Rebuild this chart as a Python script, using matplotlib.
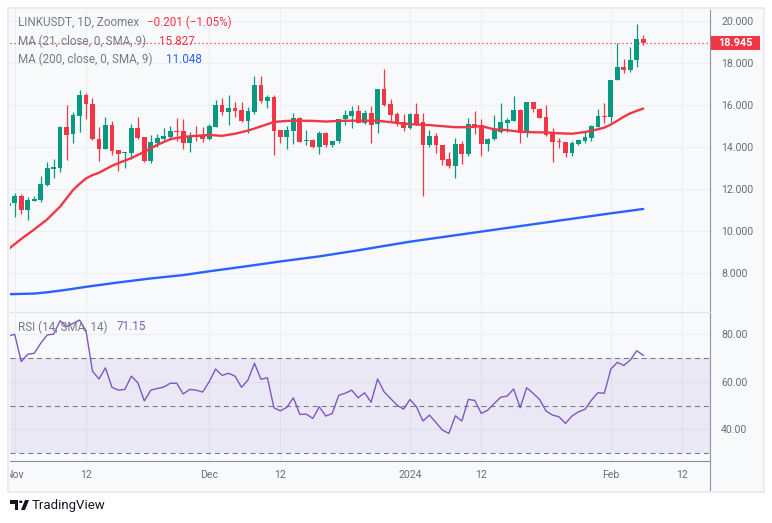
import numpy as np
import pandas as pd
import matplotlib
matplotlib.use('Agg')
import matplotlib.pyplot as plt
import matplotlib.dates as mdates
from matplotlib.patches import Rectangle, Polygon, Circle

# LINKUSDT daily candles (Zoomex), first candle 2023-10-31
start = '2023-10-31'
opens = [11.20,
         11.35, 11.67, 11.02, 11.45, 11.49, 12.19, 12.97, 13.02, 14.97, 14.60,
         15.49, 16.48, 16.05, 14.37, 13.92, 15.05, 13.86, 13.70, 13.73, 14.89,
         14.46, 13.35, 14.21, 14.40, 14.49, 14.76, 14.76, 14.17, 14.55, 14.52,
         14.38, 14.97, 16.00, 15.68, 15.84, 15.76, 15.24, 15.65, 16.95, 16.21,
         16.38, 14.81, 14.49, 14.78, 15.37, 14.27, 14.33, 14.02, 14.65, 14.10,
         14.27, 15.32, 15.49, 15.71, 15.16, 15.63, 15.10, 16.76, 16.05, 15.57,
         15.21, 14.92, 15.57, 15.21, 14.10, 14.52, 14.10, 13.43, 13.10, 14.14,
         13.67, 15.10, 15.05, 14.14, 14.38, 14.73, 15.16, 15.24, 15.76, 14.65,
         16.14, 15.79, 15.43, 14.65, 14.29, 14.25, 13.73, 14.14, 14.29, 14.44,
         14.97, 15.49, 15.41, 17.17, 17.81, 17.65, 18.13, 19.146]
highs = [11.45,
         11.79, 11.76, 11.63, 11.67, 12.62, 13.30, 13.41, 15.02, 16.02, 15.68,
         16.71, 16.59, 16.32, 14.97, 15.44, 15.24, 13.86, 13.78, 15.08, 15.41,
         14.46, 14.57, 14.62, 14.89, 15.02, 15.37, 15.32, 14.73, 15.00, 14.97,
         15.08, 16.24, 16.32, 16.48, 16.16, 16.16, 15.92, 17.38, 17.38, 16.48,
         16.48, 14.81, 15.00, 15.63, 15.41, 14.81, 14.37, 14.76, 14.73, 14.29,
         15.32, 15.76, 15.95, 16.00, 15.76, 15.95, 16.76, 17.71, 16.29, 15.68,
         15.57, 15.63, 16.11, 15.63, 14.81, 14.65, 14.10, 13.78, 14.41, 14.30,
         15.37, 15.71, 15.33, 14.44, 15.52, 16.11, 15.40, 16.43, 15.79, 16.14,
         16.14, 15.87, 16.00, 14.92, 14.44, 14.25, 14.29, 14.38, 14.70, 15.05,
         15.83, 16.10, 17.21, 18.95, 18.19, 18.76, 19.83, 19.35]
lows = [10.95,
        10.68, 10.81, 10.52, 11.44, 11.40, 12.14, 12.51, 12.83, 13.38, 14.17,
        14.73, 15.33, 14.33, 13.35, 13.92, 13.62, 12.87, 12.98, 13.41, 14.37,
        13.30, 13.25, 13.98, 14.33, 14.33, 14.30, 13.90, 13.78, 14.30, 14.25,
        14.33, 14.94, 15.52, 15.05, 15.44, 15.21, 14.68, 15.57, 16.08, 15.84,
        13.62, 14.17, 13.89, 14.14, 14.25, 14.10, 13.94, 13.67, 13.98, 14.02,
        14.21, 15.05, 14.92, 15.13, 15.08, 14.21, 14.68, 15.95, 15.25, 15.00,
        14.78, 14.84, 15.05, 11.68, 14.02, 13.73, 13.14, 12.98, 12.54, 13.19,
        13.57, 14.62, 13.57, 13.83, 14.33, 14.68, 14.73, 15.24, 14.21, 14.49,
        15.68, 15.40, 14.52, 13.27, 13.94, 13.54, 13.59, 14.10, 14.19, 14.30,
        14.94, 15.14, 15.17, 17.17, 17.52, 17.56, 17.81, 18.87]
closes = [11.35,
          11.67, 11.02, 11.48, 11.51, 12.24, 13.00, 13.06, 14.97, 14.59, 15.52,
          16.48, 16.03, 14.37, 13.92, 15.05, 13.83, 13.67, 13.78, 14.89, 14.41,
          13.35, 14.22, 14.43, 14.52, 14.76, 14.71, 14.17, 14.51, 14.48, 14.38,
          15.00, 16.00, 15.68, 15.84, 15.73, 15.24, 15.71, 16.95, 16.19, 16.37,
          14.78, 14.49, 14.81, 15.37, 14.25, 14.33, 14.02, 14.65, 14.10, 14.29,
          15.32, 15.52, 15.71, 15.16, 15.63, 15.05, 16.76, 16.00, 15.52, 15.10,
          14.92, 15.57, 15.10, 14.10, 14.52, 14.10, 13.38, 13.10, 14.14, 13.67,
          15.10, 15.00, 14.14, 14.38, 14.81, 15.21, 15.29, 15.76, 14.65, 16.14,
          15.79, 15.40, 14.57, 14.25, 14.22, 13.73, 14.17, 14.33, 14.49, 15.00,
          15.49, 15.41, 17.21, 17.81, 17.65, 18.16, 19.146, 18.945]
rsi = [79.3,
       80.0, 68.5, 71.6, 72.0, 76.2, 79.7, 80.1, 85.7, 83.3, 84.6,
       86.0, 81.5, 64.5, 61.2, 65.9, 57.7, 56.5, 56.8, 62.4, 59.6,
       52.0, 56.5, 57.2, 57.8, 59.4, 59.4, 54.9, 56.8, 56.5, 55.7,
       60.0, 65.4, 62.7, 63.6, 62.4, 57.7, 60.8, 67.8, 61.1, 61.7,
       49.1, 47.8, 49.3, 53.3, 46.3, 46.4, 44.6, 49.5, 45.6, 46.7,
       54.3, 55.2, 56.5, 53.3, 55.4, 51.4, 61.2, 55.8, 53.0, 50.2,
       48.5, 52.6, 49.5, 43.5, 46.0, 42.9, 39.7, 38.3, 45.7, 43.5,
       52.6, 52.2, 46.7, 48.1, 50.9, 53.5, 54.0, 57.0, 49.1, 57.5,
       55.2, 52.6, 47.7, 46.0, 45.3, 42.5, 45.6, 47.4, 48.4, 52.3,
       55.4, 55.2, 65.4, 68.2, 66.9, 69.2, 73.1, 71.15]

# moving averages (day = days after 2023-11-01)
ma21_day = [-1, 1, 3, 5, 7, 9, 10, 11, 12, 13, 15, 16, 18, 20, 22, 24, 26, 28, 30,
            32, 34, 36, 38, 40, 42, 44, 46, 48, 50, 52, 54, 56, 58, 60, 62, 64, 66,
            68, 70, 72, 74, 76, 78, 80, 82, 84, 86, 88, 90, 91, 92, 93, 94, 95, 96, 97]
ma21_val = [9.13, 9.62, 10.07, 10.55, 11.16, 11.95, 12.24, 12.50, 12.66, 12.77, 13.10,
            13.23, 13.47, 13.77, 14.10, 14.37, 14.48, 14.53, 14.57, 14.53, 14.63, 14.78,
            14.98, 15.19, 15.24, 15.25, 15.24, 15.21, 15.24, 15.25, 15.25, 15.25, 15.18,
            15.11, 15.07, 15.04, 14.99, 14.94, 14.94, 14.99, 14.84, 14.80, 14.72, 14.70,
            14.69, 14.65, 14.63, 14.71, 14.84, 14.92, 15.07, 15.25, 15.44, 15.60, 15.72,
            15.827]
ma200_day = [-1, 3, 5, 8, 11, 16, 21, 26, 30, 36, 41, 47, 53, 61, 72, 83, 92, 97]
ma200_val = [6.99, 7.02, 7.08, 7.20, 7.34, 7.55, 7.74, 7.90, 8.08, 8.33, 8.55, 8.79,
             9.08, 9.49, 9.97, 10.45, 10.84, 11.048]

tick_dates = ['2023-11-01', '2023-11-12', '2023-12-01', '2023-12-12',
              '2024-01-01', '2024-01-12', '2024-02-01', '2024-02-12']
tick_labels = ['Nov', '12', 'Dec', '12', '2024', '12', 'Feb', '12']
price_ticks = [8, 10, 12, 14, 16, 18, 20]
rsi_ticks = [40, 60, 80]

W, H = 772, 523
UP, DOWN = '#089981', '#F23645'
BG = '#F8F9FB'
GRID = '#ECEEF2'
TXT = '#787B86'
AXC = '#6A6D78'
FONT = 'Roboto'


def box(x0, y0, x1, y1):
    # pixel box (top-left origin) -> figure rect
    return [x0 / W, 1 - y1 / H, (x1 - x0) / W, (y1 - y0) / H]


fig = plt.figure(figsize=(W / 100, H / 100), dpi=100, facecolor='white')
plt.rcParams['font.family'] = [FONT, 'DejaVu Sans']

frame = Rectangle((8 / W, 1 - 492 / H), 756 / W, 484 / H, transform=fig.transFigure,
                  facecolor=BG, edgecolor='#E6E9EE', lw=1.2, zorder=-5)
fig.add_artist(frame)

ax = fig.add_axes(box(10, 10, 710, 311))
ax_rsi = fig.add_axes(box(10, 312, 710, 460))
ax_t = fig.add_axes(box(10, 461, 710, 490))

dates = pd.date_range(start, periods=len(opens))
x = mdates.date2num(dates)
nov1 = mdates.date2num(pd.Timestamp('2023-11-01'))
xl = (nov1 - 0.73, nov1 + 107.3)
tx = mdates.date2num(pd.to_datetime(tick_dates))

o, h, l, c = map(np.array, (opens, highs, lows, closes))
cols = np.where(c >= o, UP, DOWN)

for a in (ax, ax_rsi, ax_t):
    a.set_facecolor(BG)
    a.set_xlim(*xl)
    for s in a.spines.values():
        s.set_visible(False)
    a.tick_params(length=0)
    a.set_xticks([])

# main pane
ax.set_ylim(6.19, 20.52)
for t in tx:
    ax.axvline(t, color=GRID, lw=0.8, zorder=0)
for p in price_ticks:
    ax.axhline(p, color=GRID, lw=0.8, zorder=0)

ax.vlines(x, l, h, colors=cols, lw=0.9, zorder=2)
body = np.maximum(np.abs(c - o), 0.03)
ax.bar(x, body, bottom=np.minimum(o, c), width=0.74, color=cols, lw=0, zorder=3)

ax.plot(nov1 + np.array(ma21_day), ma21_val, color='#F23645', lw=1.7, zorder=4,
        solid_capstyle='round')
ax.plot(nov1 + np.array(ma200_day), ma200_val, color='#2962FF', lw=1.7, zorder=4,
        solid_capstyle='round')

last = closes[-1]
ax.axhline(last, color=DOWN, lw=0.9, ls=(0, (1, 2.2)), zorder=1)

ax.yaxis.tick_right()
ax.set_yticks(price_ticks)
ax.set_yticklabels([f'{p:.3f}' for p in price_ticks])
ax.tick_params(axis='y', pad=8, labelsize=7.6, labelcolor=AXC)
ax.spines['right'].set_visible(True)
ax.spines['right'].set_color('#8E919A')
ax.spines['right'].set_linewidth(0.8)

# rsi pane
ax_rsi.set_ylim(27.1, 89.4)
for t in tx:
    ax_rsi.axvline(t, color=GRID, lw=0.8, zorder=0)
for p in rsi_ticks:
    ax_rsi.axhline(p, color=GRID, lw=0.8, zorder=0)
ax_rsi.axhspan(30, 70, color='#7E57C2', alpha=0.1, lw=0, zorder=1)
for lvl in (70, 50, 30):
    ax_rsi.axhline(lvl, color='#787B86', lw=0.8, ls=(0, (4.5, 3.5)), zorder=2)
ax_rsi.plot(x, rsi, color='#7E57C2', lw=1.0, zorder=3)
ax_rsi.yaxis.tick_right()
ax_rsi.set_yticks(rsi_ticks)
ax_rsi.set_yticklabels([f'{p:.2f}' for p in rsi_ticks])
ax_rsi.tick_params(axis='y', pad=8, labelsize=7.6, labelcolor=AXC)
ax_rsi.spines['right'].set_visible(True)
ax_rsi.spines['right'].set_color('#8E919A')
ax_rsi.spines['right'].set_linewidth(0.8)
ax_rsi.spines['top'].set_visible(True)
ax_rsi.spines['top'].set_color('#E0E3EB')
ax_rsi.spines['top'].set_linewidth(0.8)

# time axis
ax_t.set_ylim(0, 1)
ax_t.set_yticks([])
ax_t.spines['top'].set_visible(True)
ax_t.spines['top'].set_color('#8E919A')
ax_t.spines['top'].set_linewidth(0.8)
ax_t.spines['right'].set_visible(True)
ax_t.spines['right'].set_color('#8E919A')
ax_t.spines['right'].set_linewidth(0.8)
for t, lab in zip(tx, tick_labels):
    ax_t.text(t, 0.52, lab, ha='center', va='center', fontsize=7.6, color=AXC,
              clip_on=True)

# price label on the right scale
fig.add_artist(Rectangle((711 / W, 1 - 50 / H), 49 / W, 14 / H, transform=fig.transFigure,
                         facecolor=DOWN, lw=0, zorder=5))
fig.text(735.5 / W, 1 - 43 / H, f'{last:.3f}', ha='center', va='center', fontsize=7.8,
         color='white', fontweight='bold', zorder=6)

# legends
def leg(x0, y0, s, col, size=8.4):
    fig.text(x0 / W, 1 - y0 / H, s, ha='left', va='center', fontsize=size, color=col)

leg(18, 22.5, 'LINKUSDT, 1D, Zoomex', TXT)
leg(147, 22.5, '\u22120.201 (\u22121.05%)', DOWN)
leg(18, 41.5, 'MA (21, close, 0, SMA, 9)', TXT)
leg(159, 41.5, '15.827', DOWN)
leg(18, 59.5, 'MA (200, close, 0, SMA, 9)', TXT)
leg(166, 59.5, '11.048', '#2962FF')
leg(18, 327, 'RSI (14, SMA, 14)', TXT)
leg(117, 327, '71.15', '#7E57C2')

# TradingView mark
k = '#131722'
fig.add_artist(Polygon([(10 / W, 1 - 500 / H), (18 / W, 1 - 500 / H), (18 / W, 1 - 510 / H),
                        (14.5 / W, 1 - 510 / H), (14.5 / W, 1 - 503.5 / H), (10 / W, 1 - 503.5 / H)],
                       closed=True, transform=fig.transFigure, color=k, lw=0))
fig.add_artist(Circle((20.8 / W, 1 - 501.8 / H), 1.8 / W, transform=fig.transFigure, color=k, lw=0))
fig.add_artist(Polygon([(21 / W, 1 - 510 / H), (25 / W, 1 - 510 / H), (29 / W, 1 - 500 / H),
                        (25 / W, 1 - 500 / H)], closed=True, transform=fig.transFigure, color=k, lw=0))
fig.text(32 / W, 1 - 505.5 / H, 'TradingView', ha='left', va='center', fontsize=9.5, color=k)

fig.savefig('out.png', dpi=100, facecolor='white')
